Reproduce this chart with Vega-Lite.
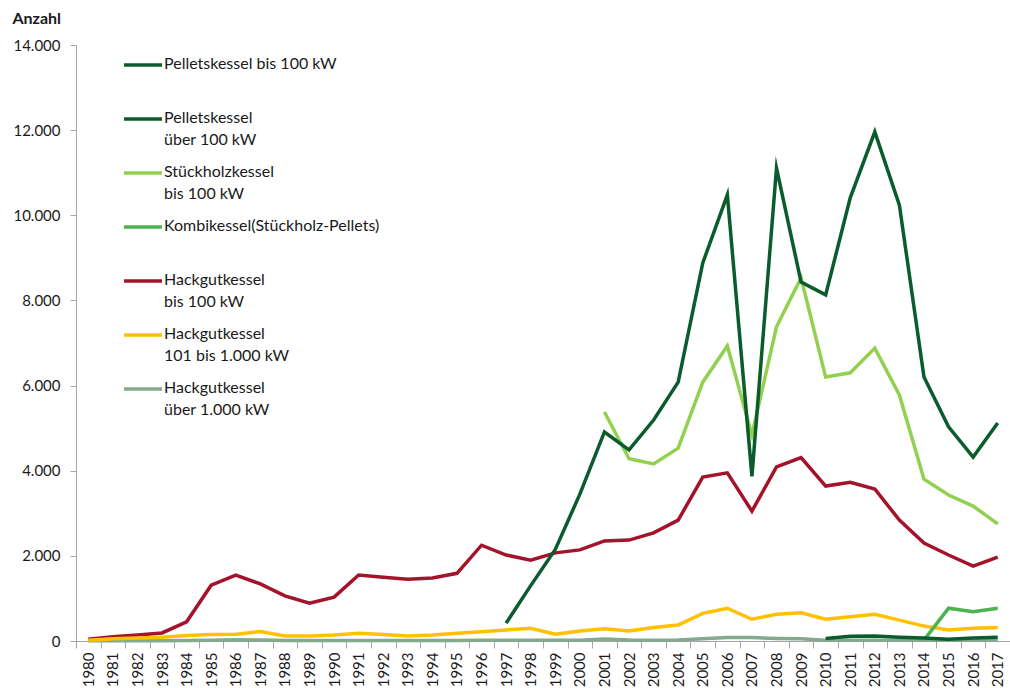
{
  "$schema": "https://vega.github.io/schema/vega-lite/v6.json",
  "width": 934,
  "height": 596,
  "autosize": {"type": "none"},
  "padding": {"left": 76, "top": 45, "right": 0, "bottom": 47},
  "config": {
    "view": {"stroke": null},
    "font": "Lato",
    "locale": {"number": {"decimal": ",", "thousands": ".", "grouping": [3], "currency": ["", " €"]}},
    "style": {"guide-label": {"lineHeight": 22}}
  },
  "datasets": {
    "d": [
      {"year": "1980", "series": "Hackgutkessel|bis 100 kW", "value": 40},
      {"year": "1981", "series": "Hackgutkessel|bis 100 kW", "value": 100},
      {"year": "1982", "series": "Hackgutkessel|bis 100 kW", "value": 140},
      {"year": "1983", "series": "Hackgutkessel|bis 100 kW", "value": 190},
      {"year": "1984", "series": "Hackgutkessel|bis 100 kW", "value": 450},
      {"year": "1985", "series": "Hackgutkessel|bis 100 kW", "value": 1310},
      {"year": "1986", "series": "Hackgutkessel|bis 100 kW", "value": 1550},
      {"year": "1987", "series": "Hackgutkessel|bis 100 kW", "value": 1340},
      {"year": "1988", "series": "Hackgutkessel|bis 100 kW", "value": 1060},
      {"year": "1989", "series": "Hackgutkessel|bis 100 kW", "value": 890},
      {"year": "1990", "series": "Hackgutkessel|bis 100 kW", "value": 1030},
      {"year": "1991", "series": "Hackgutkessel|bis 100 kW", "value": 1550},
      {"year": "1992", "series": "Hackgutkessel|bis 100 kW", "value": 1500},
      {"year": "1993", "series": "Hackgutkessel|bis 100 kW", "value": 1450},
      {"year": "1994", "series": "Hackgutkessel|bis 100 kW", "value": 1480},
      {"year": "1995", "series": "Hackgutkessel|bis 100 kW", "value": 1590},
      {"year": "1996", "series": "Hackgutkessel|bis 100 kW", "value": 2250},
      {"year": "1997", "series": "Hackgutkessel|bis 100 kW", "value": 2020},
      {"year": "1998", "series": "Hackgutkessel|bis 100 kW", "value": 1900},
      {"year": "1999", "series": "Hackgutkessel|bis 100 kW", "value": 2070},
      {"year": "2000", "series": "Hackgutkessel|bis 100 kW", "value": 2140},
      {"year": "2001", "series": "Hackgutkessel|bis 100 kW", "value": 2350},
      {"year": "2002", "series": "Hackgutkessel|bis 100 kW", "value": 2370},
      {"year": "2003", "series": "Hackgutkessel|bis 100 kW", "value": 2540},
      {"year": "2004", "series": "Hackgutkessel|bis 100 kW", "value": 2840},
      {"year": "2005", "series": "Hackgutkessel|bis 100 kW", "value": 3850},
      {"year": "2006", "series": "Hackgutkessel|bis 100 kW", "value": 3950},
      {"year": "2007", "series": "Hackgutkessel|bis 100 kW", "value": 3050},
      {"year": "2008", "series": "Hackgutkessel|bis 100 kW", "value": 4090},
      {"year": "2009", "series": "Hackgutkessel|bis 100 kW", "value": 4310},
      {"year": "2010", "series": "Hackgutkessel|bis 100 kW", "value": 3640},
      {"year": "2011", "series": "Hackgutkessel|bis 100 kW", "value": 3730},
      {"year": "2012", "series": "Hackgutkessel|bis 100 kW", "value": 3570},
      {"year": "2013", "series": "Hackgutkessel|bis 100 kW", "value": 2840},
      {"year": "2014", "series": "Hackgutkessel|bis 100 kW", "value": 2300},
      {"year": "2015", "series": "Hackgutkessel|bis 100 kW", "value": 2020},
      {"year": "2016", "series": "Hackgutkessel|bis 100 kW", "value": 1760},
      {"year": "2017", "series": "Hackgutkessel|bis 100 kW", "value": 1970},

      {"year": "1980", "series": "Hackgutkessel|über 1.000 kW", "value": 5},
      {"year": "1981", "series": "Hackgutkessel|über 1.000 kW", "value": 5},
      {"year": "1982", "series": "Hackgutkessel|über 1.000 kW", "value": 5},
      {"year": "1983", "series": "Hackgutkessel|über 1.000 kW", "value": 5},
      {"year": "1984", "series": "Hackgutkessel|über 1.000 kW", "value": 10},
      {"year": "1985", "series": "Hackgutkessel|über 1.000 kW", "value": 15},
      {"year": "1986", "series": "Hackgutkessel|über 1.000 kW", "value": 30},
      {"year": "1987", "series": "Hackgutkessel|über 1.000 kW", "value": 25},
      {"year": "1988", "series": "Hackgutkessel|über 1.000 kW", "value": 10},
      {"year": "1989", "series": "Hackgutkessel|über 1.000 kW", "value": 10},
      {"year": "1990", "series": "Hackgutkessel|über 1.000 kW", "value": 10},
      {"year": "1991", "series": "Hackgutkessel|über 1.000 kW", "value": 10},
      {"year": "1992", "series": "Hackgutkessel|über 1.000 kW", "value": 10},
      {"year": "1993", "series": "Hackgutkessel|über 1.000 kW", "value": 10},
      {"year": "1994", "series": "Hackgutkessel|über 1.000 kW", "value": 10},
      {"year": "1995", "series": "Hackgutkessel|über 1.000 kW", "value": 10},
      {"year": "1996", "series": "Hackgutkessel|über 1.000 kW", "value": 15},
      {"year": "1997", "series": "Hackgutkessel|über 1.000 kW", "value": 20},
      {"year": "1998", "series": "Hackgutkessel|über 1.000 kW", "value": 20},
      {"year": "1999", "series": "Hackgutkessel|über 1.000 kW", "value": 15},
      {"year": "2000", "series": "Hackgutkessel|über 1.000 kW", "value": 20},
      {"year": "2001", "series": "Hackgutkessel|über 1.000 kW", "value": 45},
      {"year": "2002", "series": "Hackgutkessel|über 1.000 kW", "value": 25},
      {"year": "2003", "series": "Hackgutkessel|über 1.000 kW", "value": 20},
      {"year": "2004", "series": "Hackgutkessel|über 1.000 kW", "value": 25},
      {"year": "2005", "series": "Hackgutkessel|über 1.000 kW", "value": 50},
      {"year": "2006", "series": "Hackgutkessel|über 1.000 kW", "value": 80},
      {"year": "2007", "series": "Hackgutkessel|über 1.000 kW", "value": 80},
      {"year": "2008", "series": "Hackgutkessel|über 1.000 kW", "value": 60},
      {"year": "2009", "series": "Hackgutkessel|über 1.000 kW", "value": 50},
      {"year": "2010", "series": "Hackgutkessel|über 1.000 kW", "value": 20},
      {"year": "2011", "series": "Hackgutkessel|über 1.000 kW", "value": 20},
      {"year": "2012", "series": "Hackgutkessel|über 1.000 kW", "value": 20},
      {"year": "2013", "series": "Hackgutkessel|über 1.000 kW", "value": 20},
      {"year": "2014", "series": "Hackgutkessel|über 1.000 kW", "value": 20},
      {"year": "2015", "series": "Hackgutkessel|über 1.000 kW", "value": 20},
      {"year": "2016", "series": "Hackgutkessel|über 1.000 kW", "value": 20},
      {"year": "2017", "series": "Hackgutkessel|über 1.000 kW", "value": 20},

      {"year": "1980", "series": "Hackgutkessel|101 bis 1.000 kW", "value": 20},
      {"year": "1981", "series": "Hackgutkessel|101 bis 1.000 kW", "value": 50},
      {"year": "1982", "series": "Hackgutkessel|101 bis 1.000 kW", "value": 70},
      {"year": "1983", "series": "Hackgutkessel|101 bis 1.000 kW", "value": 90},
      {"year": "1984", "series": "Hackgutkessel|101 bis 1.000 kW", "value": 130},
      {"year": "1985", "series": "Hackgutkessel|101 bis 1.000 kW", "value": 150},
      {"year": "1986", "series": "Hackgutkessel|101 bis 1.000 kW", "value": 160},
      {"year": "1987", "series": "Hackgutkessel|101 bis 1.000 kW", "value": 220},
      {"year": "1988", "series": "Hackgutkessel|101 bis 1.000 kW", "value": 120},
      {"year": "1989", "series": "Hackgutkessel|101 bis 1.000 kW", "value": 120},
      {"year": "1990", "series": "Hackgutkessel|101 bis 1.000 kW", "value": 140},
      {"year": "1991", "series": "Hackgutkessel|101 bis 1.000 kW", "value": 180},
      {"year": "1992", "series": "Hackgutkessel|101 bis 1.000 kW", "value": 150},
      {"year": "1993", "series": "Hackgutkessel|101 bis 1.000 kW", "value": 120},
      {"year": "1994", "series": "Hackgutkessel|101 bis 1.000 kW", "value": 140},
      {"year": "1995", "series": "Hackgutkessel|101 bis 1.000 kW", "value": 180},
      {"year": "1996", "series": "Hackgutkessel|101 bis 1.000 kW", "value": 220},
      {"year": "1997", "series": "Hackgutkessel|101 bis 1.000 kW", "value": 260},
      {"year": "1998", "series": "Hackgutkessel|101 bis 1.000 kW", "value": 300},
      {"year": "1999", "series": "Hackgutkessel|101 bis 1.000 kW", "value": 160},
      {"year": "2000", "series": "Hackgutkessel|101 bis 1.000 kW", "value": 235},
      {"year": "2001", "series": "Hackgutkessel|101 bis 1.000 kW", "value": 290},
      {"year": "2002", "series": "Hackgutkessel|101 bis 1.000 kW", "value": 235},
      {"year": "2003", "series": "Hackgutkessel|101 bis 1.000 kW", "value": 315},
      {"year": "2004", "series": "Hackgutkessel|101 bis 1.000 kW", "value": 375},
      {"year": "2005", "series": "Hackgutkessel|101 bis 1.000 kW", "value": 650},
      {"year": "2006", "series": "Hackgutkessel|101 bis 1.000 kW", "value": 770},
      {"year": "2007", "series": "Hackgutkessel|101 bis 1.000 kW", "value": 510},
      {"year": "2008", "series": "Hackgutkessel|101 bis 1.000 kW", "value": 630},
      {"year": "2009", "series": "Hackgutkessel|101 bis 1.000 kW", "value": 665},
      {"year": "2010", "series": "Hackgutkessel|101 bis 1.000 kW", "value": 510},
      {"year": "2011", "series": "Hackgutkessel|101 bis 1.000 kW", "value": 570},
      {"year": "2012", "series": "Hackgutkessel|101 bis 1.000 kW", "value": 630},
      {"year": "2013", "series": "Hackgutkessel|101 bis 1.000 kW", "value": 490},
      {"year": "2014", "series": "Hackgutkessel|101 bis 1.000 kW", "value": 350},
      {"year": "2015", "series": "Hackgutkessel|101 bis 1.000 kW", "value": 260},
      {"year": "2016", "series": "Hackgutkessel|101 bis 1.000 kW", "value": 300},
      {"year": "2017", "series": "Hackgutkessel|101 bis 1.000 kW", "value": 320},

      {"year": "2001", "series": "Stückholzkessel|bis 100 kW", "value": 5380},
      {"year": "2002", "series": "Stückholzkessel|bis 100 kW", "value": 4280},
      {"year": "2003", "series": "Stückholzkessel|bis 100 kW", "value": 4160},
      {"year": "2004", "series": "Stückholzkessel|bis 100 kW", "value": 4530},
      {"year": "2005", "series": "Stückholzkessel|bis 100 kW", "value": 6080},
      {"year": "2006", "series": "Stückholzkessel|bis 100 kW", "value": 6930},
      {"year": "2007", "series": "Stückholzkessel|bis 100 kW", "value": 4840},
      {"year": "2008", "series": "Stückholzkessel|bis 100 kW", "value": 7380},
      {"year": "2009", "series": "Stückholzkessel|bis 100 kW", "value": 8530},
      {"year": "2010", "series": "Stückholzkessel|bis 100 kW", "value": 6200},
      {"year": "2011", "series": "Stückholzkessel|bis 100 kW", "value": 6300},
      {"year": "2012", "series": "Stückholzkessel|bis 100 kW", "value": 6880},
      {"year": "2013", "series": "Stückholzkessel|bis 100 kW", "value": 5780},
      {"year": "2014", "series": "Stückholzkessel|bis 100 kW", "value": 3800},
      {"year": "2015", "series": "Stückholzkessel|bis 100 kW", "value": 3430},
      {"year": "2016", "series": "Stückholzkessel|bis 100 kW", "value": 3170},
      {"year": "2017", "series": "Stückholzkessel|bis 100 kW", "value": 2750},

      {"year": "2014", "series": "Kombikessel(Stückholz-Pellets)|", "value": 20},
      {"year": "2015", "series": "Kombikessel(Stückholz-Pellets)|", "value": 770},
      {"year": "2016", "series": "Kombikessel(Stückholz-Pellets)|", "value": 690},
      {"year": "2017", "series": "Kombikessel(Stückholz-Pellets)|", "value": 770},

      {"year": "2010", "series": "Pelletskessel|über 100 kW", "value": 60},
      {"year": "2011", "series": "Pelletskessel|über 100 kW", "value": 110},
      {"year": "2012", "series": "Pelletskessel|über 100 kW", "value": 120},
      {"year": "2013", "series": "Pelletskessel|über 100 kW", "value": 90},
      {"year": "2014", "series": "Pelletskessel|über 100 kW", "value": 70},
      {"year": "2015", "series": "Pelletskessel|über 100 kW", "value": 40},
      {"year": "2016", "series": "Pelletskessel|über 100 kW", "value": 70},
      {"year": "2017", "series": "Pelletskessel|über 100 kW", "value": 90},

      {"year": "1997", "series": "Pelletskessel bis 100 kW|", "value": 420},
      {"year": "1998", "series": "Pelletskessel bis 100 kW|", "value": 1300},
      {"year": "1999", "series": "Pelletskessel bis 100 kW|", "value": 2150},
      {"year": "2000", "series": "Pelletskessel bis 100 kW|", "value": 3450},
      {"year": "2001", "series": "Pelletskessel bis 100 kW|", "value": 4910},
      {"year": "2002", "series": "Pelletskessel bis 100 kW|", "value": 4490},
      {"year": "2003", "series": "Pelletskessel bis 100 kW|", "value": 5190},
      {"year": "2004", "series": "Pelletskessel bis 100 kW|", "value": 6080},
      {"year": "2005", "series": "Pelletskessel bis 100 kW|", "value": 8880},
      {"year": "2006", "series": "Pelletskessel bis 100 kW|", "value": 10480},
      {"year": "2007", "series": "Pelletskessel bis 100 kW|", "value": 3870},
      {"year": "2008", "series": "Pelletskessel bis 100 kW|", "value": 11110},
      {"year": "2009", "series": "Pelletskessel bis 100 kW|", "value": 8430},
      {"year": "2010", "series": "Pelletskessel bis 100 kW|", "value": 8130},
      {"year": "2011", "series": "Pelletskessel bis 100 kW|", "value": 10410},
      {"year": "2012", "series": "Pelletskessel bis 100 kW|", "value": 11960},
      {"year": "2013", "series": "Pelletskessel bis 100 kW|", "value": 10240},
      {"year": "2014", "series": "Pelletskessel bis 100 kW|", "value": 6200},
      {"year": "2015", "series": "Pelletskessel bis 100 kW|", "value": 5030},
      {"year": "2016", "series": "Pelletskessel bis 100 kW|", "value": 4320},
      {"year": "2017", "series": "Pelletskessel bis 100 kW|", "value": 5120}
    ]
  },
  "data": {"name": "d"},
  "mark": {"type": "line", "strokeWidth": 3.5, "strokeJoin": "miter", "strokeMiterLimit": 10},
  "encoding": {
    "x": {
      "field": "year",
      "type": "ordinal",
      "scale": {"type": "band", "paddingInner": 0, "paddingOuter": 0},
      "axis": {
        "title": null,
        "labelAngle": -90,
        "tickBand": "extent",
        "labelFontSize": 15,
        "labelColor": "#1a1a1a",
        "labelPadding": 4,
        "tickSize": 7,
        "domainColor": "#a6a6a6",
        "tickColor": "#a6a6a6"
      }
    },
    "y": {
      "field": "value",
      "type": "quantitative",
      "scale": {"domain": [0, 14000]},
      "axis": {
        "values": [0, 2000, 4000, 6000, 8000, 10000, 12000, 14000],
        "format": ",d",
        "grid": false,
        "title": "Anzahl",
        "titleAngle": 0,
        "titleAlign": "left",
        "titleBaseline": "middle",
        "titleX": -64,
        "titleY": -27,
        "titleFontSize": 16,
        "titleFontWeight": "bold",
        "titleColor": "#1a1a1a",
        "labelFontSize": 15,
        "labelColor": "#1a1a1a",
        "labelPadding": 10,
        "tickSize": 6,
        "domainColor": "#a6a6a6",
        "tickColor": "#a6a6a6"
      }
    },
    "color": {
      "field": "series",
      "type": "nominal",
      "scale": {
        "domain": [
          "Pelletskessel bis 100 kW|",
          "Pelletskessel|über 100 kW",
          "Stückholzkessel|bis 100 kW",
          "Kombikessel(Stückholz-Pellets)|",
          "Hackgutkessel|bis 100 kW",
          "Hackgutkessel|101 bis 1.000 kW",
          "Hackgutkessel|über 1.000 kW"
        ],
        "range": ["#0a5c2c", "#0a5c2c", "#92d050", "#4db352", "#a3132a", "#ffc000", "#84a98c"]
      },
      "legend": {
        "title": null,
        "orient": "none",
        "legendX": 46,
        "legendY": -1,
        "padding": 0,
        "symbolType": "stroke",
        "symbolSize": 1444,
        "symbolStrokeWidth": 3.5,
        "labelExpr": "split(datum.label, '|')",
        "labelFontSize": 16,
        "labelColor": "#1a1a1a",
        "labelLimit": 400,
        "labelOffset": 0,
        "rowPadding": 4,
        "labelBaseline": "top",
        "encode": {"labels": {"update": {"dy": {"value": -9}}}}
      }
    }
  }
}
